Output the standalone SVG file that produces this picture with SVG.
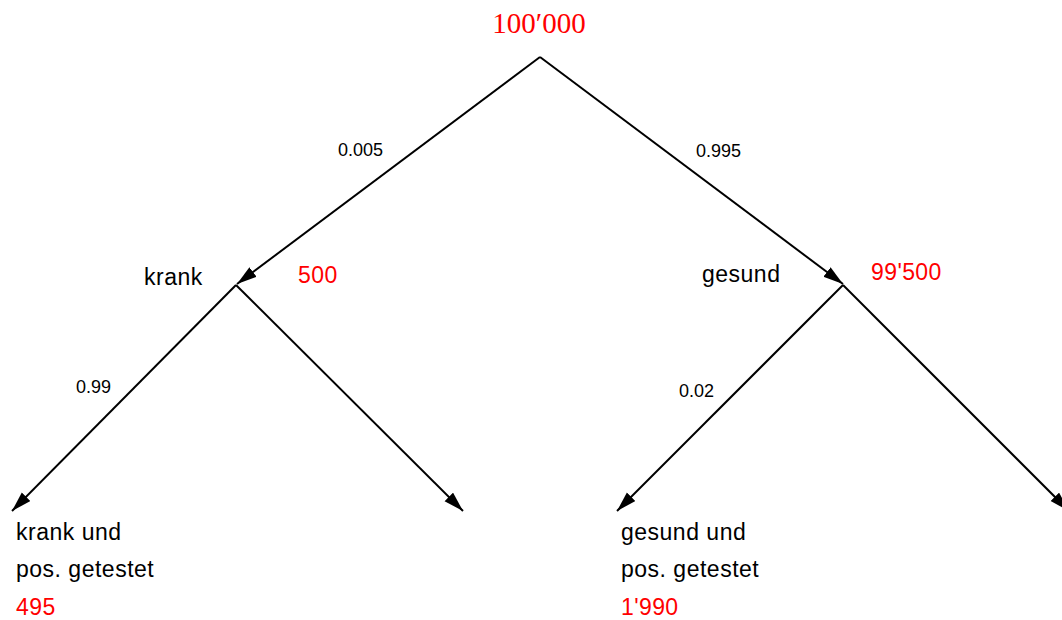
<svg xmlns="http://www.w3.org/2000/svg" width="1062" height="620" viewBox="0 0 1062 620">
  <style>
    .edge { stroke: #000; stroke-width: 2; fill: none; marker-end: url(#arrow); }
    .lbl { font-family: "Liberation Sans", Arial, sans-serif; font-size: 23px; letter-spacing: 0.5px; fill: #000; }
    .num { font-family: "Liberation Sans", Arial, sans-serif; font-size: 23px; letter-spacing: 0.4px; fill: #ff0000; }
    .prob { font-family: "Liberation Sans", Arial, sans-serif; font-size: 18px; fill: #000; }
    .root { font-family: "Liberation Serif", "Times New Roman", serif; font-size: 29px; fill: #ff0000; }
  </style>
  <defs>
    <marker id="arrow" markerUnits="userSpaceOnUse" markerWidth="22" markerHeight="14" refX="20" refY="6" orient="auto">
      <path d="M0,0 L20,6 L0,12 z" fill="#000"/>
    </marker>
  </defs>
  <rect width="1062" height="620" fill="#fff"/>

  <g id="connectors">
    <line class="edge" x1="540" y1="57" x2="237" y2="284"/>
    <line class="edge" x1="540" y1="57" x2="843" y2="284"/>
    <line class="edge" x1="236" y1="285" x2="12" y2="511"/>
    <line class="edge" x1="236" y1="285" x2="463" y2="511"/>
    <line class="edge" x1="843" y1="285" x2="617" y2="511"/>
    <line class="edge" x1="843" y1="285" x2="1069" y2="511"/>
    <text class="prob" x="338" y="156">0.005</text>
    <text class="prob" x="696" y="157">0.995</text>
    <text class="prob" x="76" y="393">0.99</text>
    <text class="prob" x="679" y="397">0.02</text>
  </g>

  <g id="root">
    <text class="root" x="539" y="33" text-anchor="middle">100′000</text>
  </g>

  <g id="krank">
    <text class="lbl" x="144" y="285">krank</text>
    <text class="num" x="298" y="283">500</text>
  </g>

  <g id="gesund">
    <text class="lbl" x="702" y="282">gesund</text>
    <text class="num" x="871" y="280">99'500</text>
  </g>

  <g id="krank-pos">
    <text class="lbl" x="16" y="540">krank und</text>
    <text class="lbl" x="16" y="577">pos. getestet</text>
    <text class="num" x="16" y="615">495</text>
  </g>

  <g id="krank-neg"/>

  <g id="gesund-pos">
    <text class="lbl" x="621" y="540">gesund und</text>
    <text class="lbl" x="621" y="577">pos. getestet</text>
    <text class="num" x="621" y="615">1'990</text>
  </g>

  <g id="gesund-neg"/>
</svg>
